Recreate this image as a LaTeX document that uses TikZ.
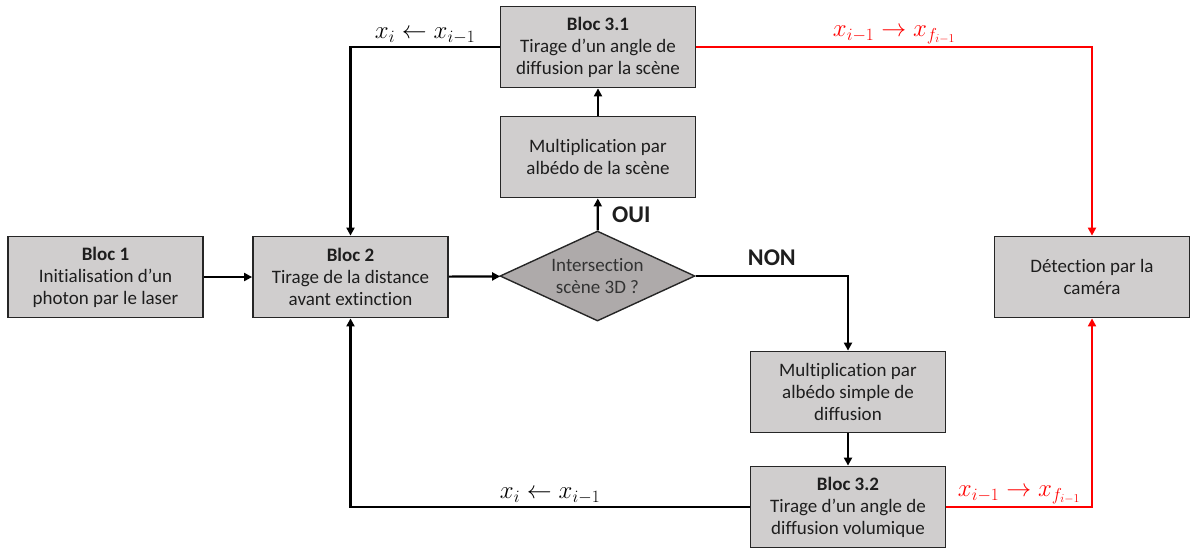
\documentclass[tikz,border=0pt]{standalone}
\usepackage{amsmath}
\usepackage{fontspec}
\setmainfont{Carlito}[Ligatures={NoCommon}]
\usepackage{xcolor}
\usepackage{tikz}
\usetikzlibrary{arrows.meta,positioning,shapes.geometric}

\definecolor{boxgray}{HTML}{D0CECE}
\definecolor{diagray}{HTML}{AEAAAA}
\definecolor{textgray}{HTML}{1E1E1E}

\begin{document}
\begin{tikzpicture}[
  x=1pt, y=-1pt,
  block/.style={draw=black!85, line width=1.8pt, fill=boxgray, align=center,
    minimum width=195pt, minimum height=81pt, inner sep=1pt, text=textgray,
    font=\fontsize{19}{22}\selectfont},
  decision/.style={diamond, draw=black!85, line width=1.4pt, fill=diagray,
    align=center, aspect=2.17, inner xsep=-14pt, inner ysep=-3pt,
    minimum width=195pt, minimum height=90pt, text=black!80,
    font=\fontsize{19}{22}\selectfont},
  arrow/.style={-{Triangle[length=8pt,width=8pt]}, line width=2.2pt},
  redarrow/.style={arrow, draw=red},
  eqlabel/.style={font=\fontsize{24}{26}\selectfont, inner sep=2pt},
  answer/.style={font=\fontsize{24}{26}\selectfont\bfseries, text=textgray}
]
\useasboundingbox (0,0) rectangle (1193,550);

\node[block] (bloc1) at (105.5,277) {\textbf{Bloc 1}\\Initialisation d’un\\photon par le laser};
\node[block] (bloc2) at (350.5,277) {\textbf{Bloc 2}\\Tirage de la distance\\avant extinction};
\node[decision] (test) at (597.5,276) {Intersection\\scène 3D ?};
\node[block] (albscene) at (598,157) {Multiplication par\\albédo de la scène};
\node[block] (bloc31) at (598,47) {\textbf{Bloc 3.1}\\Tirage d’un angle de\\diffusion par la scène};
\node[block] (albvol) at (848,392) {Multiplication par\\albédo simple de\\diffusion};
\node[block] (bloc32) at (848,507) {\textbf{Bloc 3.2}\\Tirage d’un angle de\\diffusion volumique};
\node[block] (camera) at (1092,277) {Détection par la\\caméra};

\draw[arrow] (bloc1) -- (bloc2);
\draw[arrow] (bloc2) -- (test);
\draw[arrow] (test) -- (albscene) node[answer, pos=0.5, right=10pt] {OUI};
\draw[arrow] (albscene) -- (bloc31);
\draw[arrow] (bloc31.west) -| (bloc2.north)
  node[eqlabel, pos=0.25, above] {$x_i \leftarrow x_{i-1}$};
\draw[redarrow] (bloc31.east) -| (camera.north)
  node[eqlabel, pos=0.25, above, text=red] {$x_{i-1} \rightarrow x_{f_{i-1}}$};
\draw[arrow] (test.east) -| (albvol.north)
  node[answer, pos=0.25, above=6pt] {NON};
\draw[arrow] (albvol) -- (bloc32);
\draw[arrow] (bloc32.west) -| (bloc2.south)
  node[eqlabel, pos=0.25, above] {$x_i \leftarrow x_{i-1}$};
\draw[redarrow] (bloc32.east) -| (camera.south)
  node[eqlabel, pos=0.25, above, text=red] {$x_{i-1} \rightarrow x_{f_{i-1}}$};
\end{tikzpicture}
\end{document}
